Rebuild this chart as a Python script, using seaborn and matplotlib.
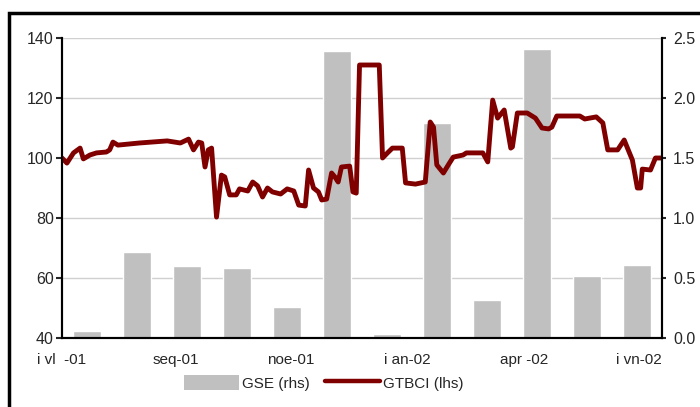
import numpy as np
import pandas as pd
import matplotlib
matplotlib.use('Agg')
import matplotlib.pyplot as plt
from matplotlib.patches import Patch, Rectangle
from matplotlib.lines import Line2D
import seaborn as sns

# monthly GSE bars (right axis)
months = ['jul-01', 'aug-01', 'sep-01', 'oct-01', 'nov-01', 'dec-01',
          'jan-02', 'feb-02', 'mar-02', 'apr-02', 'may-02', 'jun-02']
gse = [0.06, 0.72, 0.60, 0.58, 0.26, 2.39, 0.03, 1.79, 0.32, 2.41, 0.52, 0.61]

# GTBCI index (left axis), days since 1 jul 2001
day = [0, 3, 7, 11, 13, 17, 21, 27, 29, 31, 34, 47, 64, 72, 77, 80, 83, 85, 87, 89,
       91, 94, 97, 99, 102, 106, 108, 113, 116, 119, 122, 125, 128, 133, 137, 141,
       144, 148, 150, 153, 156, 158, 161, 164, 166, 168, 170, 175, 177, 179, 181,
       193, 195, 198, 201, 207, 209, 215, 221, 224, 226, 228, 232, 235, 238, 244,
       246, 256, 259, 262, 265, 269, 273, 274, 277, 283, 288, 292, 296, 298, 301,
       315, 318, 325, 329, 332, 338, 342, 344, 347, 350, 352, 353, 358, 361, 365]
gtbci = [100, 98.3, 101.7, 103.3, 99.7, 101, 101.7, 102, 102.7, 105.3, 104.3, 105,
         105.7, 105, 106.3, 102.7, 105.3, 105, 97, 102.7, 103.3, 80.3, 94.3, 93.7,
         87.7, 87.7, 89.7, 89, 92, 90.7, 87, 90, 88.7, 88, 89.7, 89, 84.3, 84, 96,
         90, 88.7, 86, 86.3, 95, 93.7, 92, 97, 97.3, 88.7, 88.3, 131, 131, 100,
         101.7, 103.3, 103.3, 91.7, 91.3, 92, 112, 110.3, 97.7, 95, 97.7, 100.3,
         101, 101.7, 101.7, 98.7, 119.3, 113.3, 116, 103.3, 103.7, 115, 115, 113.3,
         110, 109.7, 110.3, 114, 114, 113, 113.7, 111.7, 102.7, 102.7, 106, 103.3,
         99.3, 90, 90, 96.3, 96, 100, 100]

tick_days = [0, 69, 139, 210, 281, 351]
tick_labels = ['i vl  -01', 'seq-01', 'noe-01', 'i an-02', 'apr -02', 'i vn-02']

sns.set_style('white')
plt.rcParams['font.family'] = ['Liberation Sans Narrow', 'Liberation Sans', 'DejaVu Sans']

fig = plt.figure(figsize=(7, 4.07), dpi=100)
ax = fig.add_axes([62 / 700, 1 - 338 / 407, 600 / 700, 300 / 407])
ax2 = ax.twinx()

bars = pd.DataFrame({'month': months, 'gse': gse})
bars['mid'] = (np.arange(len(months)) + 0.5) * 365 / 12
sns.barplot(data=bars, x='mid', y='gse', ax=ax2, native_scale=True, width=0.56,
            color='#c0c0c0', saturation=1, errorbar=None)

line = pd.DataFrame({'day': day, 'gtbci': gtbci})
sns.lineplot(data=line, x='day', y='gtbci', ax=ax, color='#800000', linewidth=3.5,
             estimator=None)

ax.set_zorder(ax2.get_zorder() + 1)
ax.patch.set_visible(False)

ax.set_xlim(0, 365)
ax.set_ylim(40, 140)
ax2.set_ylim(0, 2.5)
ax.set_yticks([40, 60, 80, 100, 120, 140])
ax2.set_yticks([0, 0.5, 1.0, 1.5, 2.0, 2.5])
ax2.set_yticklabels([f'{v:.1f}' for v in [0, 0.5, 1.0, 1.5, 2.0, 2.5]])
ax.set_xticks(tick_days)
ax.set_xticklabels(tick_labels)
ax.set_xlabel('')
ax.set_ylabel('')
ax2.set_xlabel('')
ax2.set_ylabel('')

ax2.set_axisbelow(True)
ax2.grid(axis='y', color='#d0d0d0', linewidth=1)
ax.grid(False)

for a in (ax, ax2):
    a.spines['top'].set_visible(False)
    for s in ('left', 'bottom', 'right'):
        a.spines[s].set_color('black')
        a.spines[s].set_linewidth(1.5)

ax.tick_params(axis='y', left=True, length=4, width=1.5, pad=2, labelsize=11.5)
ax.tick_params(axis='x', bottom=False, pad=7, labelsize=11)
ax2.tick_params(axis='y', right=True, length=3, width=1.5, pad=5, labelsize=11.5)
for t in ax2.get_yticklabels() + ax.get_yticklabels():
    t.set_family('Liberation Sans')

handles = [Patch(facecolor='#c0c0c0', edgecolor='none'),
           Line2D([0], [0], color='#800000', linewidth=3.2)]
fig.legend(handles, ['GSE (rhs)', 'GTBCI (lhs)'], loc='center', ncol=2,
           bbox_to_anchor=(0.462, 0.059), frameon=False, fontsize=11,
           handlelength=3.6, handleheight=1.1, handletextpad=0.2, columnspacing=1.0)

# outer frame of the exhibit
fig.patches.append(Rectangle((8.5 / 700, -0.5), 2, 0.5 + 1 - 12.5 / 407,
                             transform=fig.transFigure, fill=False,
                             edgecolor='black', linewidth=2.5))

fig.savefig('out.png', dpi=100)
